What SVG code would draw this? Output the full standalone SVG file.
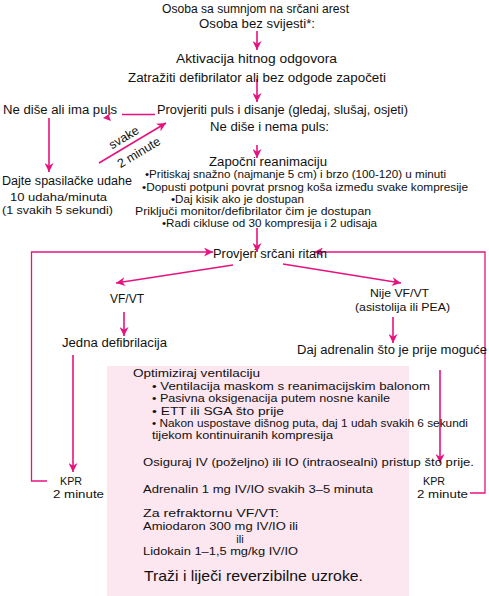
<svg xmlns="http://www.w3.org/2000/svg" width="489" height="596" viewBox="0 0 489 596">
<defs>
<marker id="ah" viewBox="0 0 10 10" refX="10" refY="5" markerWidth="10" markerHeight="9" markerUnits="userSpaceOnUse" orient="auto">
<path d="M0,0 L10,5 L0,10 L3,5 z" fill="#e6137f"/>
</marker>
<style>
text{font-family:"Liberation Sans",Arial,sans-serif;fill:#111;}
.t{font-size:12.5px;}
.u{font-size:11.5px;}
.m{text-anchor:middle;}
.s{font-size:10.4px;}
.b{font-size:11px;}
.a{stroke:#e6137f;stroke-width:1.6;fill:none;}
.l{stroke:#e6137f;stroke-width:1.3;fill:none;}
</style>
</defs>
<rect x="107" y="366" width="302" height="230" fill="#fce6ef"/>
<g id="connectors">
<line class="a" x1="257" y1="31" x2="257" y2="50" marker-end="url(#ah)"/>
<line class="a" x1="257" y1="79" x2="257" y2="102" marker-end="url(#ah)"/>
<line class="a" x1="257" y1="145" x2="257" y2="158" marker-end="url(#ah)"/>
<line class="a" x1="257" y1="228" x2="257" y2="252" marker-end="url(#ah)"/>
<line class="a" x1="233" y1="265" x2="116" y2="283" marker-end="url(#ah)"/>
<line class="a" x1="283" y1="264" x2="401" y2="283" marker-end="url(#ah)"/>
<line class="a" x1="124" y1="312" x2="124" y2="336" marker-end="url(#ah)"/>
<line class="a" x1="393" y1="317" x2="393" y2="343" marker-end="url(#ah)"/>
<line class="a" x1="73" y1="355" x2="73" y2="472" marker-end="url(#ah)"/>
<line class="a" x1="440" y1="370" x2="440" y2="463" marker-end="url(#ah)"/>
<line class="a" x1="49" y1="118" x2="49" y2="172" marker-end="url(#ah)"/>
<line class="a" x1="99" y1="163" x2="166" y2="123" marker-end="url(#ah)"/>
<path class="l" d="M47,481 H31.5 V252 H213" marker-end="url(#ah)"/>
<path class="l" d="M470,493 H485 V252 H314" marker-end="url(#ah)"/>
<line class="l" x1="155" y1="114.5" x2="122" y2="114.5"/>
<path d="M103,118 L112,112 L109,116 L111,121 z" fill="#e6137f"/>
</g>
<g id="n-start">
<text class="t m" x="255.5" y="13" textLength="187" lengthAdjust="spacingAndGlyphs">Osoba sa sumnjom na srčani arest</text>
<text class="t m" x="257" y="28" textLength="116" lengthAdjust="spacingAndGlyphs">Osoba bez svijesti*:</text>
</g>
<g id="n-activate">
<text class="t m" x="256.5" y="63" textLength="161" lengthAdjust="spacingAndGlyphs">Aktivacija hitnog odgovora</text>
<text class="t m" x="257" y="82" textLength="258" lengthAdjust="spacingAndGlyphs">Zatražiti defibrilator ali bez odgode započeti</text>
</g>
<g id="n-check">
<text class="t m" x="282.5" y="114" textLength="251" lengthAdjust="spacingAndGlyphs">Provjeriti puls i disanje (gledaj, slušaj, osjeti)</text>
<text class="t m" x="269.5" y="131" textLength="119" lengthAdjust="spacingAndGlyphs">Ne diše i nema puls:</text>
</g>
<g id="n-pulse">
<text class="t" x="3" y="114" textLength="114" lengthAdjust="spacingAndGlyphs">Ne diše ali ima puls</text>
</g>
<g id="n-breaths">
<text class="t m" x="67" y="185" textLength="130" lengthAdjust="spacingAndGlyphs">Dajte spasilačke udahe</text>
<text class="u m" x="58.5" y="201" textLength="97" lengthAdjust="spacingAndGlyphs">10 udaha/minuta</text>
<text class="u m" x="57.5" y="214" textLength="111" lengthAdjust="spacingAndGlyphs">(1 svakih 5 sekundi)</text>
</g>
<g id="n-every2">
<text class="t m" transform="translate(126,141) rotate(-31)">svake</text>
<text class="t m" transform="translate(141,156) rotate(-31)">2 minute</text>
</g>
<g id="n-cpr">
<text class="t m" x="268" y="165.5" textLength="118" lengthAdjust="spacingAndGlyphs">Započni reanimaciju</text>
<text class="s m" x="295.5" y="178" textLength="301" lengthAdjust="spacingAndGlyphs">•Pritiskaj snažno (najmanje 5 cm) i brzo (100-120) u minuti</text>
<text class="s m" x="305" y="190.5" textLength="326" lengthAdjust="spacingAndGlyphs">•Dopusti potpuni povrat prsnog koša između svake kompresije</text>
<text class="s m" x="237.5" y="202.5" textLength="133" lengthAdjust="spacingAndGlyphs">•Daj kisik ako je dostupan</text>
<text class="s m" x="253" y="214.5" textLength="236" lengthAdjust="spacingAndGlyphs">Priključi monitor/defibrilator čim je dostupan</text>
<text class="s m" x="269.5" y="226.5" textLength="215" lengthAdjust="spacingAndGlyphs">•Radi cikluse od 30 kompresija i 2 udisaja</text>
</g>
<g id="n-rhythm">
<text class="t m" x="270" y="258" textLength="114" lengthAdjust="spacingAndGlyphs">Provjeri srčani ritam</text>
</g>
<g id="n-vf">
<text class="t m" x="127" y="303" textLength="34" lengthAdjust="spacingAndGlyphs">VF/VT</text>
</g>
<g id="n-nonvf">
<text class="u m" x="399.5" y="297" textLength="59" lengthAdjust="spacingAndGlyphs">Nije VF/VT</text>
<text class="u m" x="402.5" y="310.5" textLength="95" lengthAdjust="spacingAndGlyphs">(asistolija ili PEA)</text>
</g>
<g id="n-defib">
<text class="t m" x="114.5" y="347" textLength="105" lengthAdjust="spacingAndGlyphs">Jedna defibrilacija</text>
</g>
<g id="n-adrenalin">
<text class="t m" x="392" y="354" textLength="190" lengthAdjust="spacingAndGlyphs">Daj adrenalin što je prije moguće</text>
</g>
<g id="n-kpr-left">
<text class="u m" x="71" y="484.5" textLength="22" lengthAdjust="spacingAndGlyphs">KPR</text>
<text class="u m" x="78.5" y="498" textLength="51" lengthAdjust="spacingAndGlyphs">2 minute</text>
</g>
<g id="n-kpr-right">
<text class="u m" x="434" y="484.5" textLength="22" lengthAdjust="spacingAndGlyphs">KPR</text>
<text class="u m" x="442.5" y="498" textLength="51" lengthAdjust="spacingAndGlyphs">2 minute</text>
</g>
<g id="n-box">
<text class="b" x="133" y="377" textLength="127" lengthAdjust="spacingAndGlyphs">Optimiziraj ventilaciju</text>
<text class="b" x="152" y="389.5" textLength="278" lengthAdjust="spacingAndGlyphs">• Ventilacija maskom s reanimacijskim balonom</text>
<text class="b" x="152" y="402" textLength="238" lengthAdjust="spacingAndGlyphs">• Pasivna oksigenacija putem nosne kanile</text>
<text class="b" x="152" y="414.5" textLength="132" lengthAdjust="spacingAndGlyphs">• ETT ili SGA što prije</text>
<text class="s" x="152" y="426.5" textLength="316" lengthAdjust="spacingAndGlyphs">• Nakon uspostave dišnog puta, daj 1 udah svakih 6 sekundi</text>
<text class="s" x="152" y="438.5" textLength="181" lengthAdjust="spacingAndGlyphs">tijekom kontinuiranih kompresija</text>
<text class="u" x="143" y="466" textLength="331" lengthAdjust="spacingAndGlyphs">Osiguraj IV (poželjno) ili IO (intraosealni) pristup što prije.</text>
<text class="u" x="143" y="493" textLength="230" lengthAdjust="spacingAndGlyphs">Adrenalin 1 mg IV/IO svakih 3–5 minuta</text>
<text class="u" x="143" y="517" textLength="136" lengthAdjust="spacingAndGlyphs">Za refraktornu VF/VT:</text>
<text class="u" x="143" y="530" textLength="155" lengthAdjust="spacingAndGlyphs">Amiodaron 300 mg IV/IO ili</text>
<text class="b m" x="240" y="542.5">ili</text>
<text class="u" x="143" y="555.3" textLength="155" lengthAdjust="spacingAndGlyphs">Lidokain 1–1,5 mg/kg IV/IO</text>
<text x="144" y="581" style="font-size:15px" textLength="219" lengthAdjust="spacingAndGlyphs">Traži i liječi reverzibilne uzroke.</text>
</g>
</svg>
